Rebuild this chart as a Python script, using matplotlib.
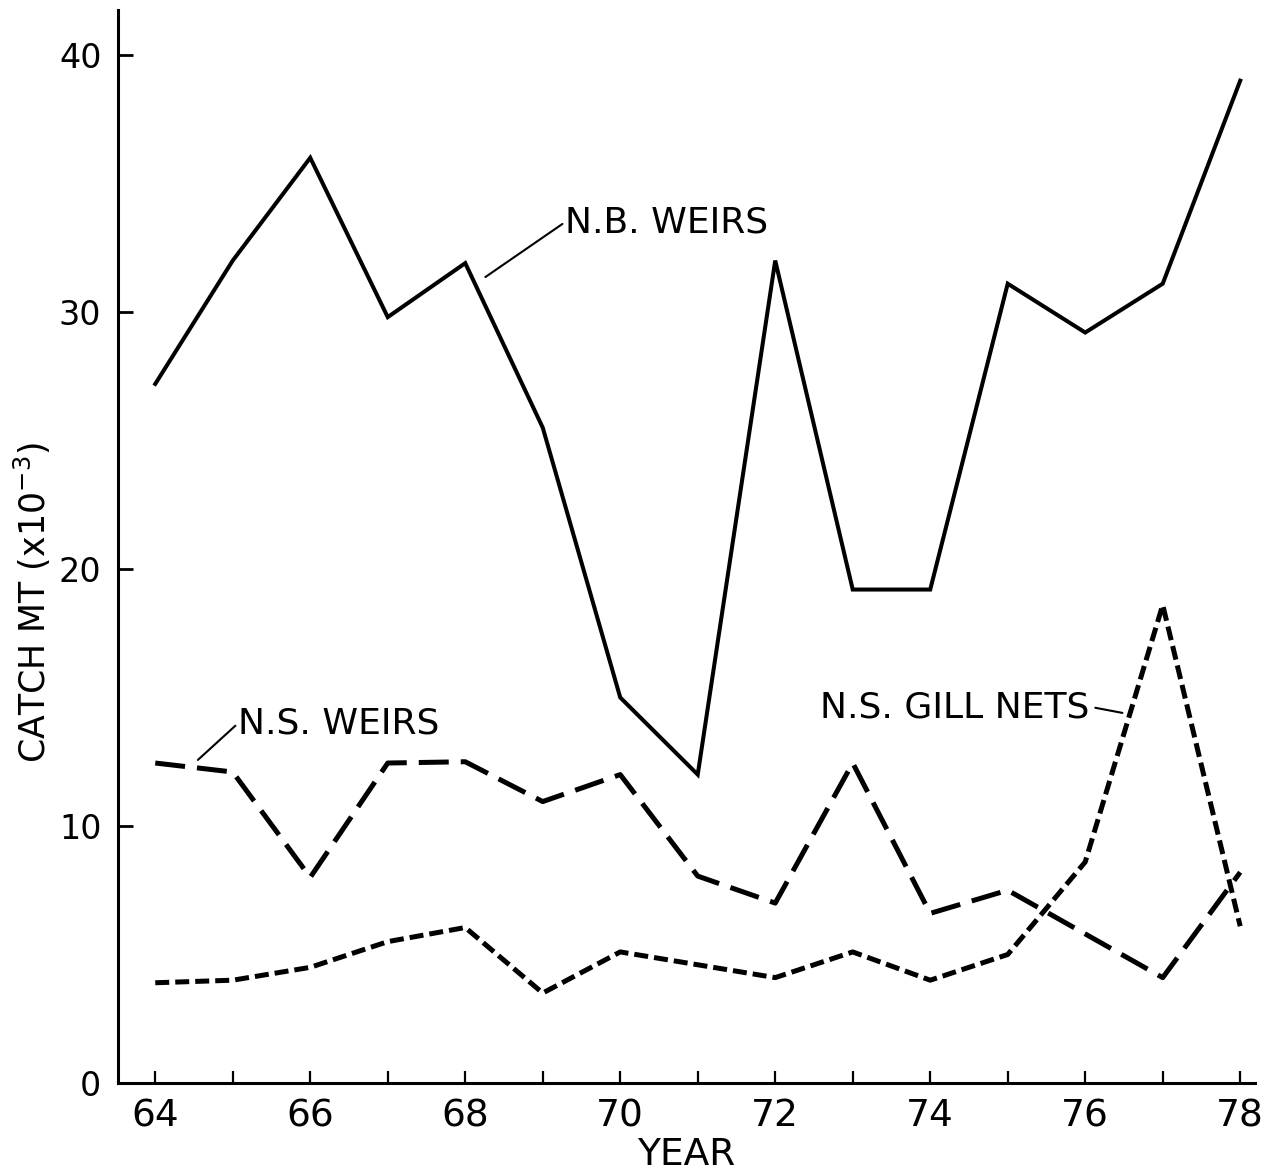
import matplotlib.pyplot as plt

# annual catch, thousands of metric tons
years = [64, 65, 66, 67, 68, 69, 70, 71, 72, 73, 74, 75, 76, 77, 78]
nb_weirs = [27.2, 32.0, 36.0, 29.8, 31.9, 25.5, 15.0, 12.0, 32.0, 19.2, 19.2, 31.1, 29.2, 31.1, 39.0]
ns_weirs = [12.45, 12.1, 8.0, 12.45, 12.5, 10.95, 12.0, 8.05, 7.0, 12.45, 6.6, 7.5, 5.8, 4.1, 8.2]
ns_gill_nets = [3.9, 4.0, 4.5, 5.5, 6.05, 3.5, 5.1, 4.6, 4.1, 5.1, 4.0, 5.0, 8.6, 18.6, 6.1]

x_ticks = [64, 66, 68, 70, 72, 74, 76, 78]
y_ticks = [0, 10, 20, 30, 40]

plt.rcParams['font.family'] = ['DejaVu Sans']

fig = plt.figure(figsize=(12.68, 11.75), dpi=100)
ax = fig.add_axes([0.0931, 0.0783, 0.8966, 0.9132])

ax.plot(years, nb_weirs, color='black', lw=2.9, solid_joinstyle='miter')
ax.plot(years, ns_weirs, color='black', lw=3.6, dashes=(6, 2.4), dash_capstyle='butt')
ax.plot(years, ns_gill_nets, color='black', lw=3.6, dashes=(2.8, 1.2), dash_capstyle='butt')

ax.set_xlim(63.52, 78.19)
ax.set_ylim(0, 41.75)

for side in ['top', 'right']:
    ax.spines[side].set_visible(False)
for side in ['left', 'bottom']:
    ax.spines[side].set_linewidth(2.2)

ax.set_xticks(range(64, 79))
ax.set_xticklabels([str(y) if y in x_ticks else '' for y in range(64, 79)])
ax.set_yticks(y_ticks)
ax.tick_params(axis='x', direction='in', length=9, width=1.6, pad=11, labelsize=27)
ax.tick_params(axis='y', direction='in', length=11, width=2.0, pad=12, labelsize=24)

fig.text(0.541, 0.017, 'YEAR', fontsize=27, ha='center', va='center')
ax.text(-0.075, 0.448, 'CATCH MT (x10$^{-3}$)', transform=ax.transAxes,
        rotation=90, fontsize=25, ha='center', va='center')

# curve labels with leader lines
leader = dict(arrowstyle='-', lw=1.5, color='black', shrinkA=0, shrinkB=0)
ax.annotate('N.B. WEIRS', xy=(68.26, 31.36), xytext=(69.29, 33.5), fontsize=26,
            va='center', ha='left', arrowprops=dict(leader, relpos=(0, 0.5)))
ax.annotate('N.S. WEIRS', xy=(64.55, 12.57), xytext=(65.07, 14.0), fontsize=26,
            va='center', ha='left', arrowprops=dict(leader, relpos=(0, 0.5)))
ax.annotate('N.S. GILL NETS', xy=(76.48, 14.40), xytext=(76.06, 14.6), fontsize=26,
            va='center', ha='right', arrowprops=dict(leader, relpos=(1.02, 0.5)))

fig.savefig('out.png', dpi=100, facecolor='white')
